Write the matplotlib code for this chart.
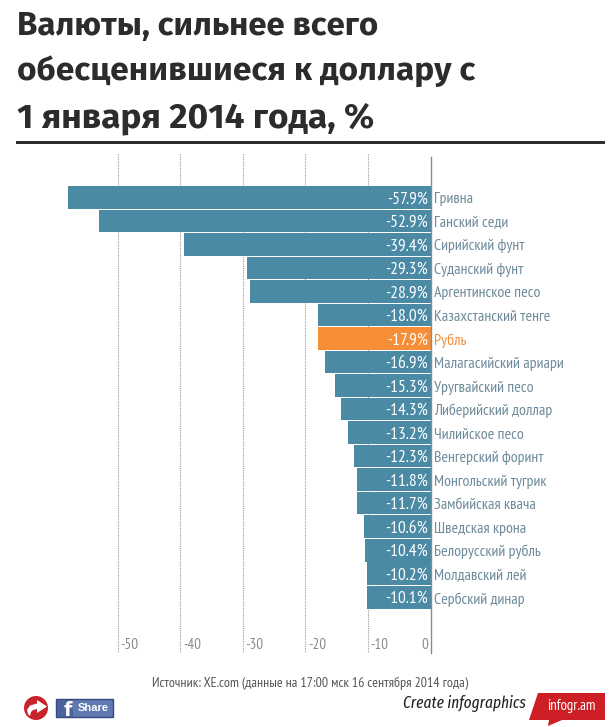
import matplotlib
matplotlib.use("Agg")
import matplotlib.pyplot as plt
from matplotlib.patches import Circle, Polygon, Rectangle
from matplotlib.ticker import FixedLocator

W, H = 614, 727
currencies = ["Гривна", "Ганский седи", "Сирийский фунт", "Суданский фунт", "Аргентинское песо",
              "Казахстанский тенге", "Рубль", "Малагасийский ариари", "Уругвайский песо",
              "Либерийский доллар", "Чилийское песо", "Венгерский форинт", "Монгольский тугрик",
              "Замбийская квача", "Шведская крона", "Белорусский рубль", "Молдавский лей", "Сербский динар"]
changes = [-57.9, -52.9, -39.4, -29.3, -28.9, -18.0, -17.9, -16.9, -15.3,
           -14.3, -13.2, -12.3, -11.8, -11.7, -10.6, -10.4, -10.2, -10.1]
highlight = "Рубль"
ticks = [-50, -40, -30, -20, -10, 0]
title_lines = ["Валюты, сильнее всего", "обесценившиеся к доллару с", "1 января 2014 года, %"]
source = "Источник: XE.com (данные на 17:00 мск 16 сентября 2014 года)"

NARROW = ["PT Sans Narrow", "Roboto", "DejaVu Sans"]
TITLEF = ["Fira Sans", "Open Sans", "DejaVu Sans"]
BLUE, ORANGE = "#4a8aa5", "#f68e37"
LABEL = "#6d8b9b"

fig = plt.figure(figsize=(W / 100, H / 100), dpi=100, facecolor="white")
bg = fig.add_axes([0, 0, 1, 1])
bg.set_xlim(0, W); bg.set_ylim(H, 0); bg.axis("off")

L, R, T, B = 60, 430.5, 153, 653
PXU = 6.26
ROW, FIRST = 23.53, 197.3
ax = fig.add_axes([L / W, 1 - B / H, (R - L) / W, (B - T) / H])
ax.patch.set_alpha(0)
ax.set_xlim(-(R - L) / PXU, 0)
ax.set_ylim((B - FIRST) / ROW, (T - FIRST) / ROW)
for s in ["top", "left", "bottom"]:
    ax.spines[s].set_visible(False)
ax.spines["right"].set_color("#8a8a8a")
ax.spines["right"].set_linewidth(1)
ax.spines["right"].set_bounds((B - FIRST) / ROW, (157 - FIRST) / ROW)
ax.xaxis.set_major_locator(FixedLocator(ticks[:-1]))
ax.xaxis.grid(True, color="#9a9a9a", linestyle=(0, (1, 1)), linewidth=0.8)
ax.set_axisbelow(True)
ax.tick_params(left=False, bottom=False, labelleft=False, labelbottom=False)

ypos = list(range(len(currencies)))
colors = [ORANGE if c == highlight else BLUE for c in currencies]
ax.barh(ypos, changes, height=22.6 / ROW, color=colors, zorder=2)

for y, c, v in zip(ypos, currencies, changes):
    ax.annotate(f"{v:.1f}%", (0, y), xytext=(-2, -1.4), textcoords="offset points",
                ha="right", va="center", color="white", fontsize=12.5, family=NARROW, zorder=3)
    ax.annotate(c, (0, y), xytext=(2.7, -1.4), textcoords="offset points",
                ha="left", va="center", fontsize=11.4, family=NARROW,
                color=ORANGE if c == highlight else LABEL)
for t in ticks:
    off, ha = (-1.5, "right") if t == 0 else (2, "left")
    ax.annotate(str(t), (t, (645 - FIRST) / ROW), xytext=(off, 0), textcoords="offset points",
                ha=ha, va="center", fontsize=10.8, family=NARROW, color="#8a8a8a")

for y, size, line in zip([26, 71, 118], [23.8, 24, 25.3], title_lines):
    bg.text(17, y, line, fontsize=size, fontweight="bold", family=TITLEF,
            color="#2c2c2c", va="center", ha="left")
bg.add_patch(Rectangle((16, 141), 589, 2.5, color="#2e2e2e", lw=0))

bg.text(310, 683, source, fontsize=10, family=NARROW, color="#555555", ha="center", va="center")
bg.add_patch(Circle((36, 708), 12, color="#c8232c", lw=0))
bg.add_patch(Polygon([(37, 700), (47, 706.5), (37, 713), (37, 709), (33, 710), (31, 712), (30, 716),
                      (28, 714), (27, 710), (30, 705.5), (37, 703.5)], closed=True, color="white", lw=0))
bg.add_patch(Rectangle((56, 699), 57, 18, facecolor="#6079b0", edgecolor="#34497f", lw=1))
bg.add_patch(Rectangle((56.5, 699.5), 16.5, 17, facecolor="#4a63a0", lw=0))
bg.text(68, 710, "f", fontsize=14, fontweight="bold", color="white", ha="center", va="center", family="DejaVu Sans")
bg.text(93, 708, "Share", fontsize=8, fontweight="bold", color="white", ha="center", va="center", family="Liberation Sans")
bg.text(526, 704, "Create infographics", fontsize=12, style="italic",
        family=["Fira Sans Extra Condensed", "Roboto", "DejaVu Sans"],
        color="#222222", ha="right", va="center")
bg.add_patch(Polygon([(538, 693), (605, 693), (605, 720), (562, 720), (548, 726), (549, 720), (529, 720)],
                     closed=True, color="#cf1f26", lw=0))
bg.text(571, 706, "infogr.am", fontsize=10.5, family=NARROW, color="white", ha="center", va="center")

fig.savefig("out.png", dpi=100, facecolor="white")
